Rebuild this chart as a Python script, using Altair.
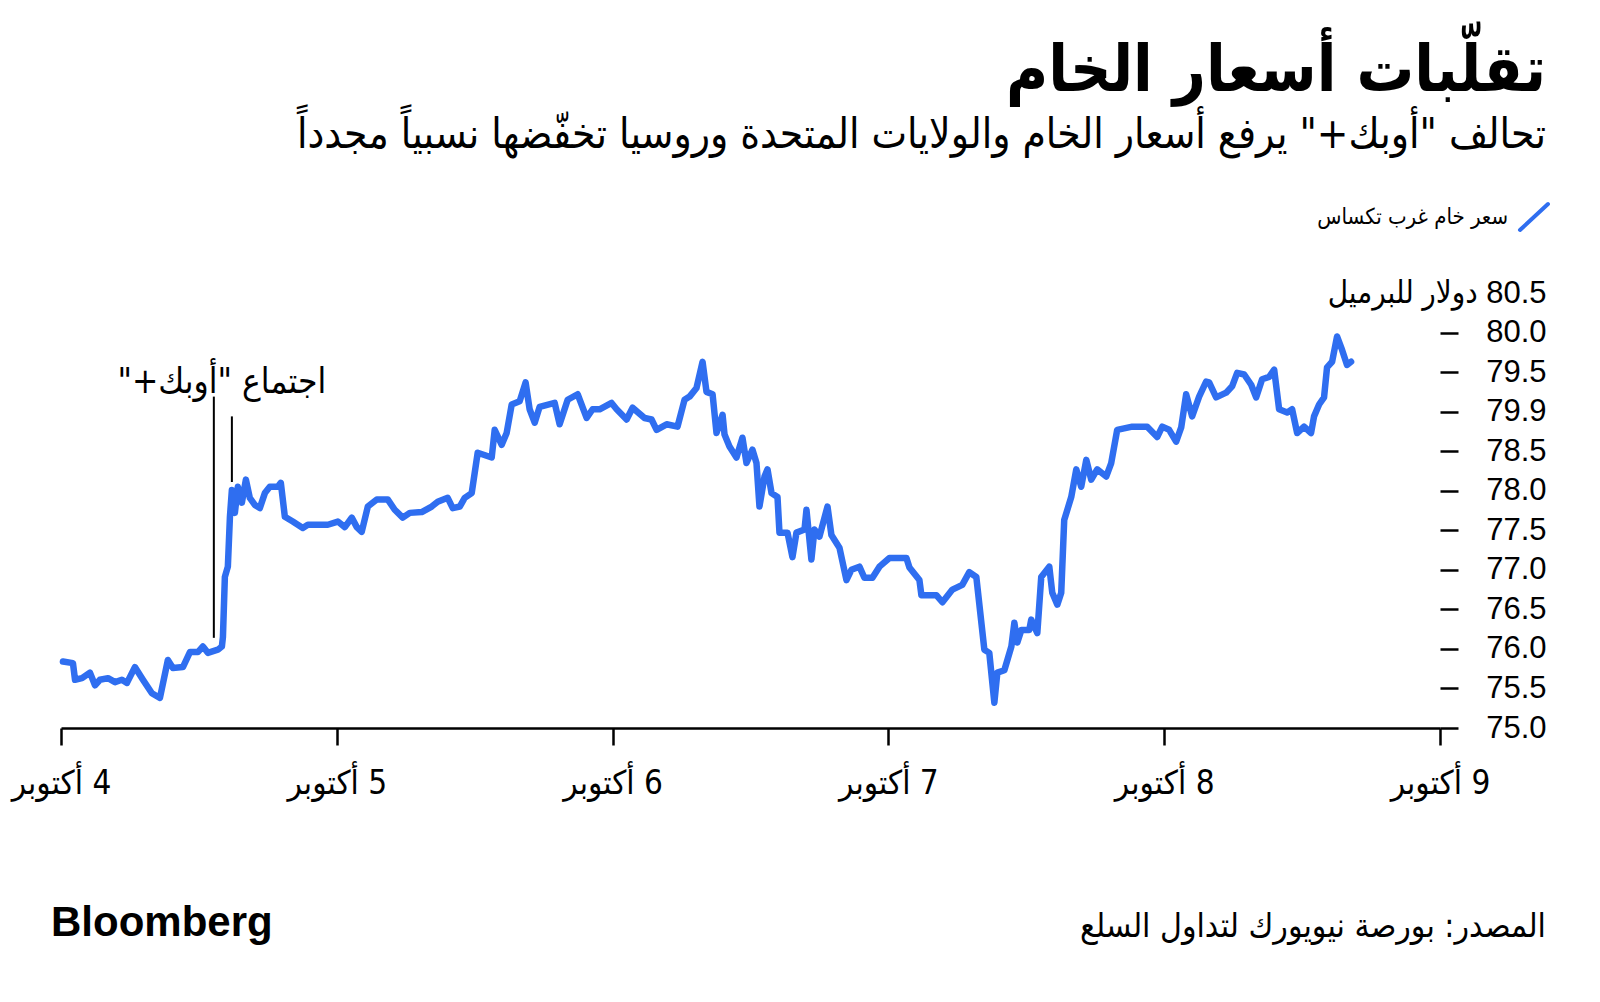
import json
import altair as alt
import pandas as pd

# ---------------- data ----------------
hours = [0.17, 1.04, 1.22, 1.83, 2.52, 2.96, 3.39, 4.09, 4.70, 5.30, 5.74, 6.43, 7.13, 7.91, 8.61,
         9.30, 9.74, 10.61, 11.22, 11.91, 12.35, 12.78, 13.65, 14.00, 14.09, 14.26, 14.52, 14.70,
         14.87, 15.13, 15.39, 15.74, 16.09, 16.43, 16.87, 17.30, 17.74, 18.17, 18.87, 19.13, 19.48,
         20.17, 21.04, 21.48, 23.22, 24.09, 24.70, 25.30, 25.74, 26.17, 26.70, 27.48, 28.43, 29.04,
         29.74, 30.35, 31.39, 32.26, 32.78, 33.65, 34.09, 34.70, 35.13, 35.74, 36.26, 37.48, 37.74,
         38.35, 38.78, 39.22, 39.91, 40.43, 40.78, 41.22, 41.65, 42.96, 43.39, 44.09, 44.96, 45.74,
         46.26, 46.87, 47.91, 48.35, 49.22, 49.74, 50.78, 51.39, 51.83, 52.70, 53.65, 54.26, 54.70,
         55.30, 55.83, 56.17, 56.70, 57.04, 57.57, 57.74, 58.17, 58.78, 59.30, 59.65, 60.17, 60.52,
         60.78, 61.22, 61.48, 61.83, 62.35, 62.52, 63.22, 63.65, 64.00, 64.70, 64.87, 65.30, 65.57,
         66.00, 66.70, 67.04, 67.74, 68.35, 68.78, 69.48, 69.91, 70.61, 71.22, 72.09, 73.57, 73.83,
         74.70, 74.87, 76.17, 76.70, 77.57, 78.43, 79.04, 79.65, 80.35, 80.78, 81.22, 81.48, 82.09,
         82.70, 82.96, 83.22, 83.57, 84.26, 84.43, 84.96, 85.30, 86.00, 86.26, 86.70, 87.04, 87.30,
         87.91, 88.35, 88.78, 89.22, 89.65, 90.17, 90.96, 91.39, 91.91, 93.22, 94.52, 95.39, 95.83,
         96.43, 97.04, 97.48, 97.91, 98.43, 99.04, 99.65, 99.91, 100.52, 101.39, 101.91, 102.35,
         102.96, 103.57, 104.00, 104.52, 105.13, 105.57, 106.00, 106.70, 107.13, 107.57, 108.17,
         108.78, 109.04, 109.48, 109.91, 110.17, 110.61, 111.04, 111.48, 111.91, 112.26]
prices = [75.84, 75.82, 75.61, 75.63, 75.70, 75.54, 75.61, 75.63, 75.58, 75.61, 75.57, 75.77, 75.61,
          75.44, 75.38, 75.86, 75.76, 75.77, 75.96, 75.96, 76.03, 75.95, 75.99, 76.03, 76.15, 76.91,
          77.04, 77.67, 78.01, 77.72, 78.05, 77.85, 78.14, 77.91, 77.82, 77.78, 77.97, 78.05, 78.05,
          78.10, 77.67, 77.61, 77.53, 77.57, 77.57, 77.61, 77.54, 77.66, 77.54, 77.48, 77.80, 77.89,
          77.89, 77.76, 77.66, 77.72, 77.73, 77.80, 77.86, 77.91, 77.78, 77.80, 77.91, 77.97, 78.48,
          78.42, 78.77, 78.58, 78.73, 79.09, 79.13, 79.37, 79.03, 78.86, 79.06, 79.11, 78.84, 79.15,
          79.22, 78.92, 79.03, 79.03, 79.11, 79.03, 78.90, 79.05, 78.92, 78.90, 78.77, 78.84, 78.81,
          79.15, 79.19, 79.30, 79.63, 79.25, 79.22, 78.73, 78.96, 78.71, 78.56, 78.42, 78.67, 78.35,
          78.52, 78.35, 77.80, 78.18, 78.27, 77.97, 77.92, 77.47, 77.47, 77.16, 77.47, 77.51, 77.76,
          77.13, 77.51, 77.42, 77.80, 77.44, 77.28, 76.87, 77.00, 77.04, 76.90, 76.90, 77.04, 77.15,
          77.15, 77.03, 76.87, 76.68, 76.68, 76.59, 76.75, 76.81, 76.97, 76.91, 75.99, 75.95, 75.32,
          75.70, 75.73, 76.03, 76.33, 76.08, 76.24, 76.24, 76.37, 76.20, 76.91, 77.04, 76.71, 76.56,
          76.71, 77.63, 77.92, 78.27, 78.05, 78.39, 78.14, 78.27, 78.18, 78.35, 78.77, 78.81, 78.81,
          78.68, 78.81, 78.77, 78.62, 78.80, 79.22, 78.94, 79.19, 79.38, 79.37, 79.18, 79.24, 79.32,
          79.49, 79.47, 79.34, 79.18, 79.41, 79.44, 79.53, 79.03, 78.99, 79.03, 78.73, 78.81, 78.73,
          78.94, 79.09, 79.18, 79.56, 79.63, 79.95, 79.78, 79.59, 79.63]

x_tick_hours = [0, 24, 48, 72, 96, 120]
x_tick_labels = ["4 أكتوبر", "5 أكتوبر", "6 أكتوبر", "7 أكتوبر", "8 أكتوبر", "9 أكتوبر"]
y_ticks = [75.0, 75.5, 76.0, 76.5, 77.0, 77.5, 78.0, 78.5, 79.0, 79.5, 80.0, 80.5]
y_tick_labels = ["75.0", "75.5", "76.0", "76.5", "77.0", "77.5", "78.0", "78.5", "79.9", "79.5",
                 "80.0", "80.5 دولار للبرميل"]

event_hours = [13.3, 14.87]
event_top = [79.19, 78.94]
event_bottom = [76.14, 78.11]
event_label = 'اجتماع "أوبك+"'
event_label_hour = [14.0]
event_label_price = [79.37]

title_text = "تقلّبات أسعار الخام"
subtitle_text = 'تحالف "أوبك+" يرفع أسعار الخام والولايات المتحدة وروسيا تخفّضها نسبياً مجدداً'
legend_text = "سعر خام غرب تكساس"
source_text = "المصدر: بورصة نيويورك لتداول السلع"
brand_text = "Bloomberg"

# ---------------- style ----------------
RLM = "\u200f"
def rtl(s):
    return RLM + s + RLM

BLUE = "#2f6ef0"
AR = "DejaVu Sans Condensed"
NUM = "Liberation Sans, DejaVu Sans Condensed"
W, H = 1379, 435

x_label_expr = json.dumps([rtl(s) for s in x_tick_labels], ensure_ascii=False) + "[round(datum.value / 24)]"
y_label_expr = json.dumps([rtl(s) for s in y_tick_labels], ensure_ascii=False) + "[round((datum.value - 75) * 2)]"

x_scale = alt.Scale(domain=[0, 120], nice=False, zero=False)
y_scale = alt.Scale(domain=[75, 80.5], nice=False, zero=False)

df = pd.DataFrame({"h": hours, "p": prices})

line = alt.Chart(df).mark_line(color=BLUE, strokeWidth=6.5, strokeJoin="round", strokeCap="round").encode(
    x=alt.X("h:Q", scale=x_scale, axis=alt.Axis(
        values=x_tick_hours, labelExpr=x_label_expr, title=None, grid=False,
        domainColor="black", domainWidth=2.5, tickColor="black", tickWidth=2.5, tickSize=17,
        labelFont=AR, labelFontSize=33, labelColor="black", labelBaseline="middle",
        labelPadding=38, labelFlush=False, labelOverlap=False)),
    y=alt.Y("p:Q", scale=y_scale, axis=alt.Axis(
        orient="right", values=y_ticks, labelExpr=y_label_expr, title=None, grid=False,
        domain=False, tickSize=18, tickWidth=2.5, tickColor="black",
        tickOpacity=alt.condition("datum.value > 80.25", alt.value(0), alt.value(1)),
        labelAlign="right", labelBaseline="middle", labelPadding=88, labelLimit=500,
        labelFont=NUM, labelFontSize=31, labelColor="black", labelOverlap=False,
        labelBound=False)),
)

ev = pd.DataFrame({"h": event_hours, "p": event_top, "p2": event_bottom})
rules = alt.Chart(ev).mark_rule(color="black", strokeWidth=2).encode(
    x=alt.X("h:Q", axis=None), y=alt.Y("p:Q", axis=None), y2="p2:Q",
)

ann = pd.DataFrame({"h": event_label_hour, "p": event_label_price, "t": [rtl(event_label)]})
ann_text = alt.Chart(ann).mark_text(font=AR, fontSize=35, align="center", baseline="middle", color="black").encode(
    x=alt.X("h:Q", axis=None), y=alt.Y("p:Q", axis=None), text="t:N",
)

def deco_text(text, x, y, size, weight="normal", align="right", font=AR):
    return alt.Chart(pd.DataFrame({"t": [text]})).mark_text(
        font=font, fontSize=size, fontWeight=weight, align=align, baseline="middle", color="black"
    ).encode(x=alt.value(x), y=alt.value(y), text="t:N")

title = deco_text(rtl(title_text), 1485, -221, 64, weight="bold")
subtitle = deco_text(rtl(subtitle_text), 1485, -158, 42)
legend_lbl = deco_text(rtl(legend_text), 1447, -76, 22)
source = deco_text(rtl(source_text), 1485, 634, 33.5)
brand = deco_text(brand_text, -10, 630, 42, weight="bold", align="left", font="Liberation Sans")

legend_swatch = alt.Chart(pd.DataFrame({"a": [0]})).mark_rule(
    color=BLUE, strokeWidth=4, strokeCap="round"
).encode(x=alt.value(1459), x2=alt.value(1487), y=alt.value(-63), y2=alt.value(-89))

chart = alt.layer(
    line, rules, ann_text, title, subtitle, legend_lbl, legend_swatch, source, brand
).resolve_axis(
    x="independent", y="independent"
).properties(
    width=W, height=H,
    padding={"left": 61, "top": 293, "right": 160, "bottom": 274},
    autosize=alt.AutoSizeParams(type="none"),
    background="white",
).configure_view(stroke=None)

chart.save("out.html", embed_options={"renderer": "svg", "actions": False})
